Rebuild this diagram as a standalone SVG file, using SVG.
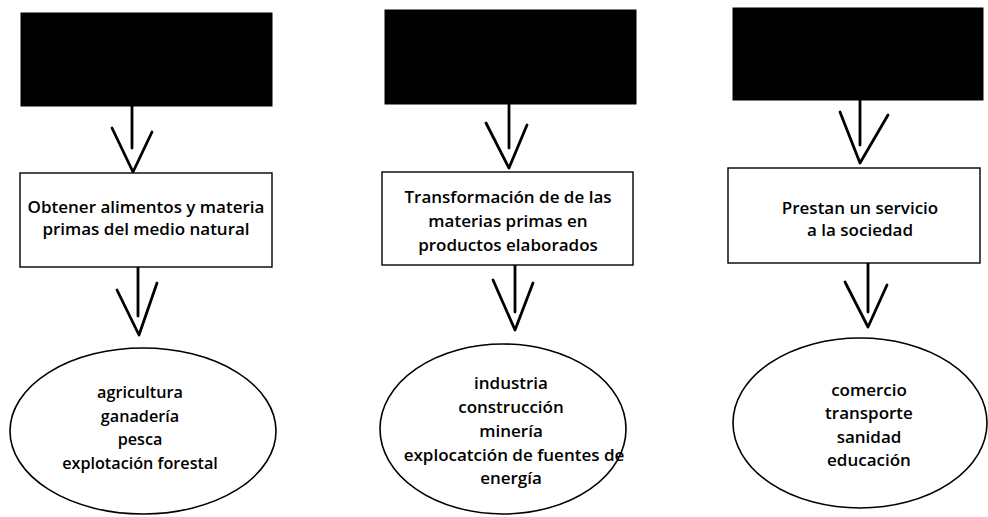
<svg xmlns="http://www.w3.org/2000/svg" width="988" height="517" viewBox="0 0 988 517">
<style>
.hdr{fill:#000;stroke:#000;stroke-width:1}
.box{fill:#fff;stroke:#000;stroke-width:1.4}
.ell{fill:#fff;stroke:#000;stroke-width:1.6}
.arr{fill:none;stroke:#000;stroke-width:2.8;stroke-linecap:round;stroke-linejoin:round}
text{font-family:"Open Sans","Liberation Sans",sans-serif;font-weight:600;font-size:17px;fill:#000;text-anchor:middle}
.sm{font-size:16.2px}
</style>
<rect width="988" height="517" fill="#fff"/>
<g id="connectors">
<path class="arr" d="M132 106 V148 M112 128 L133 172 L152 132"/>
<path class="arr" d="M138 268 V316 M117 290 L139 335 L157 283"/>
<path class="arr" d="M509 104 V148 M486 123 L509 168 L527 125"/>
<path class="arr" d="M515 265 V312 M493 280 L515 330 L533 283"/>
<path class="arr" d="M860 100 V145 M840 112 L860 163 L888 115"/>
<path class="arr" d="M868 263 V312 M845 282 L868 327 L887 285"/>
</g>
<g id="header1"><rect class="hdr" x="21" y="13" width="251" height="93"/></g>
<g id="header2"><rect class="hdr" x="385" y="10" width="251" height="94"/></g>
<g id="header3"><rect class="hdr" x="733" y="8" width="250" height="92"/></g>
<g id="box1"><rect class="box" x="20" y="173" width="252" height="94"/>
<text x="146" y="213">Obtener alimentos y materia</text>
<text x="146" y="235">primas del medio natural</text></g>
<g id="box2"><rect class="box" x="382" y="172" width="251" height="93"/>
<text x="508" y="203">Transformación de de las</text>
<text x="508" y="227">materias primas en</text>
<text x="508" y="251">productos elaborados</text></g>
<g id="box3"><rect class="box" x="728" y="168" width="252" height="95"/>
<text x="860" y="214">Prestan un servicio</text>
<text x="860" y="236">a la sociedad</text></g>
<g id="oval1"><ellipse class="ell" cx="143" cy="431" rx="133" ry="83"/>
<text class="sm" x="140" y="398">agricultura</text>
<text class="sm" x="140" y="422">ganadería</text>
<text class="sm" x="140" y="445">pesca</text>
<text class="sm" x="140" y="469">explotación forestal</text></g>
<g id="oval2"><ellipse class="ell" cx="503" cy="429" rx="123" ry="85"/>
<text x="511" y="389">industria</text>
<text x="511" y="413">construcción</text>
<text x="511" y="437">minería</text>
<text x="514" y="461">explocatción de fuentes de</text>
<text x="511" y="484">energía</text></g>
<g id="oval3"><ellipse class="ell" cx="860" cy="423" rx="127" ry="85"/>
<text x="869" y="396">comercio</text>
<text x="869" y="419">transporte</text>
<text x="869" y="443">sanidad</text>
<text x="869" y="466">educación</text></g>
</svg>
